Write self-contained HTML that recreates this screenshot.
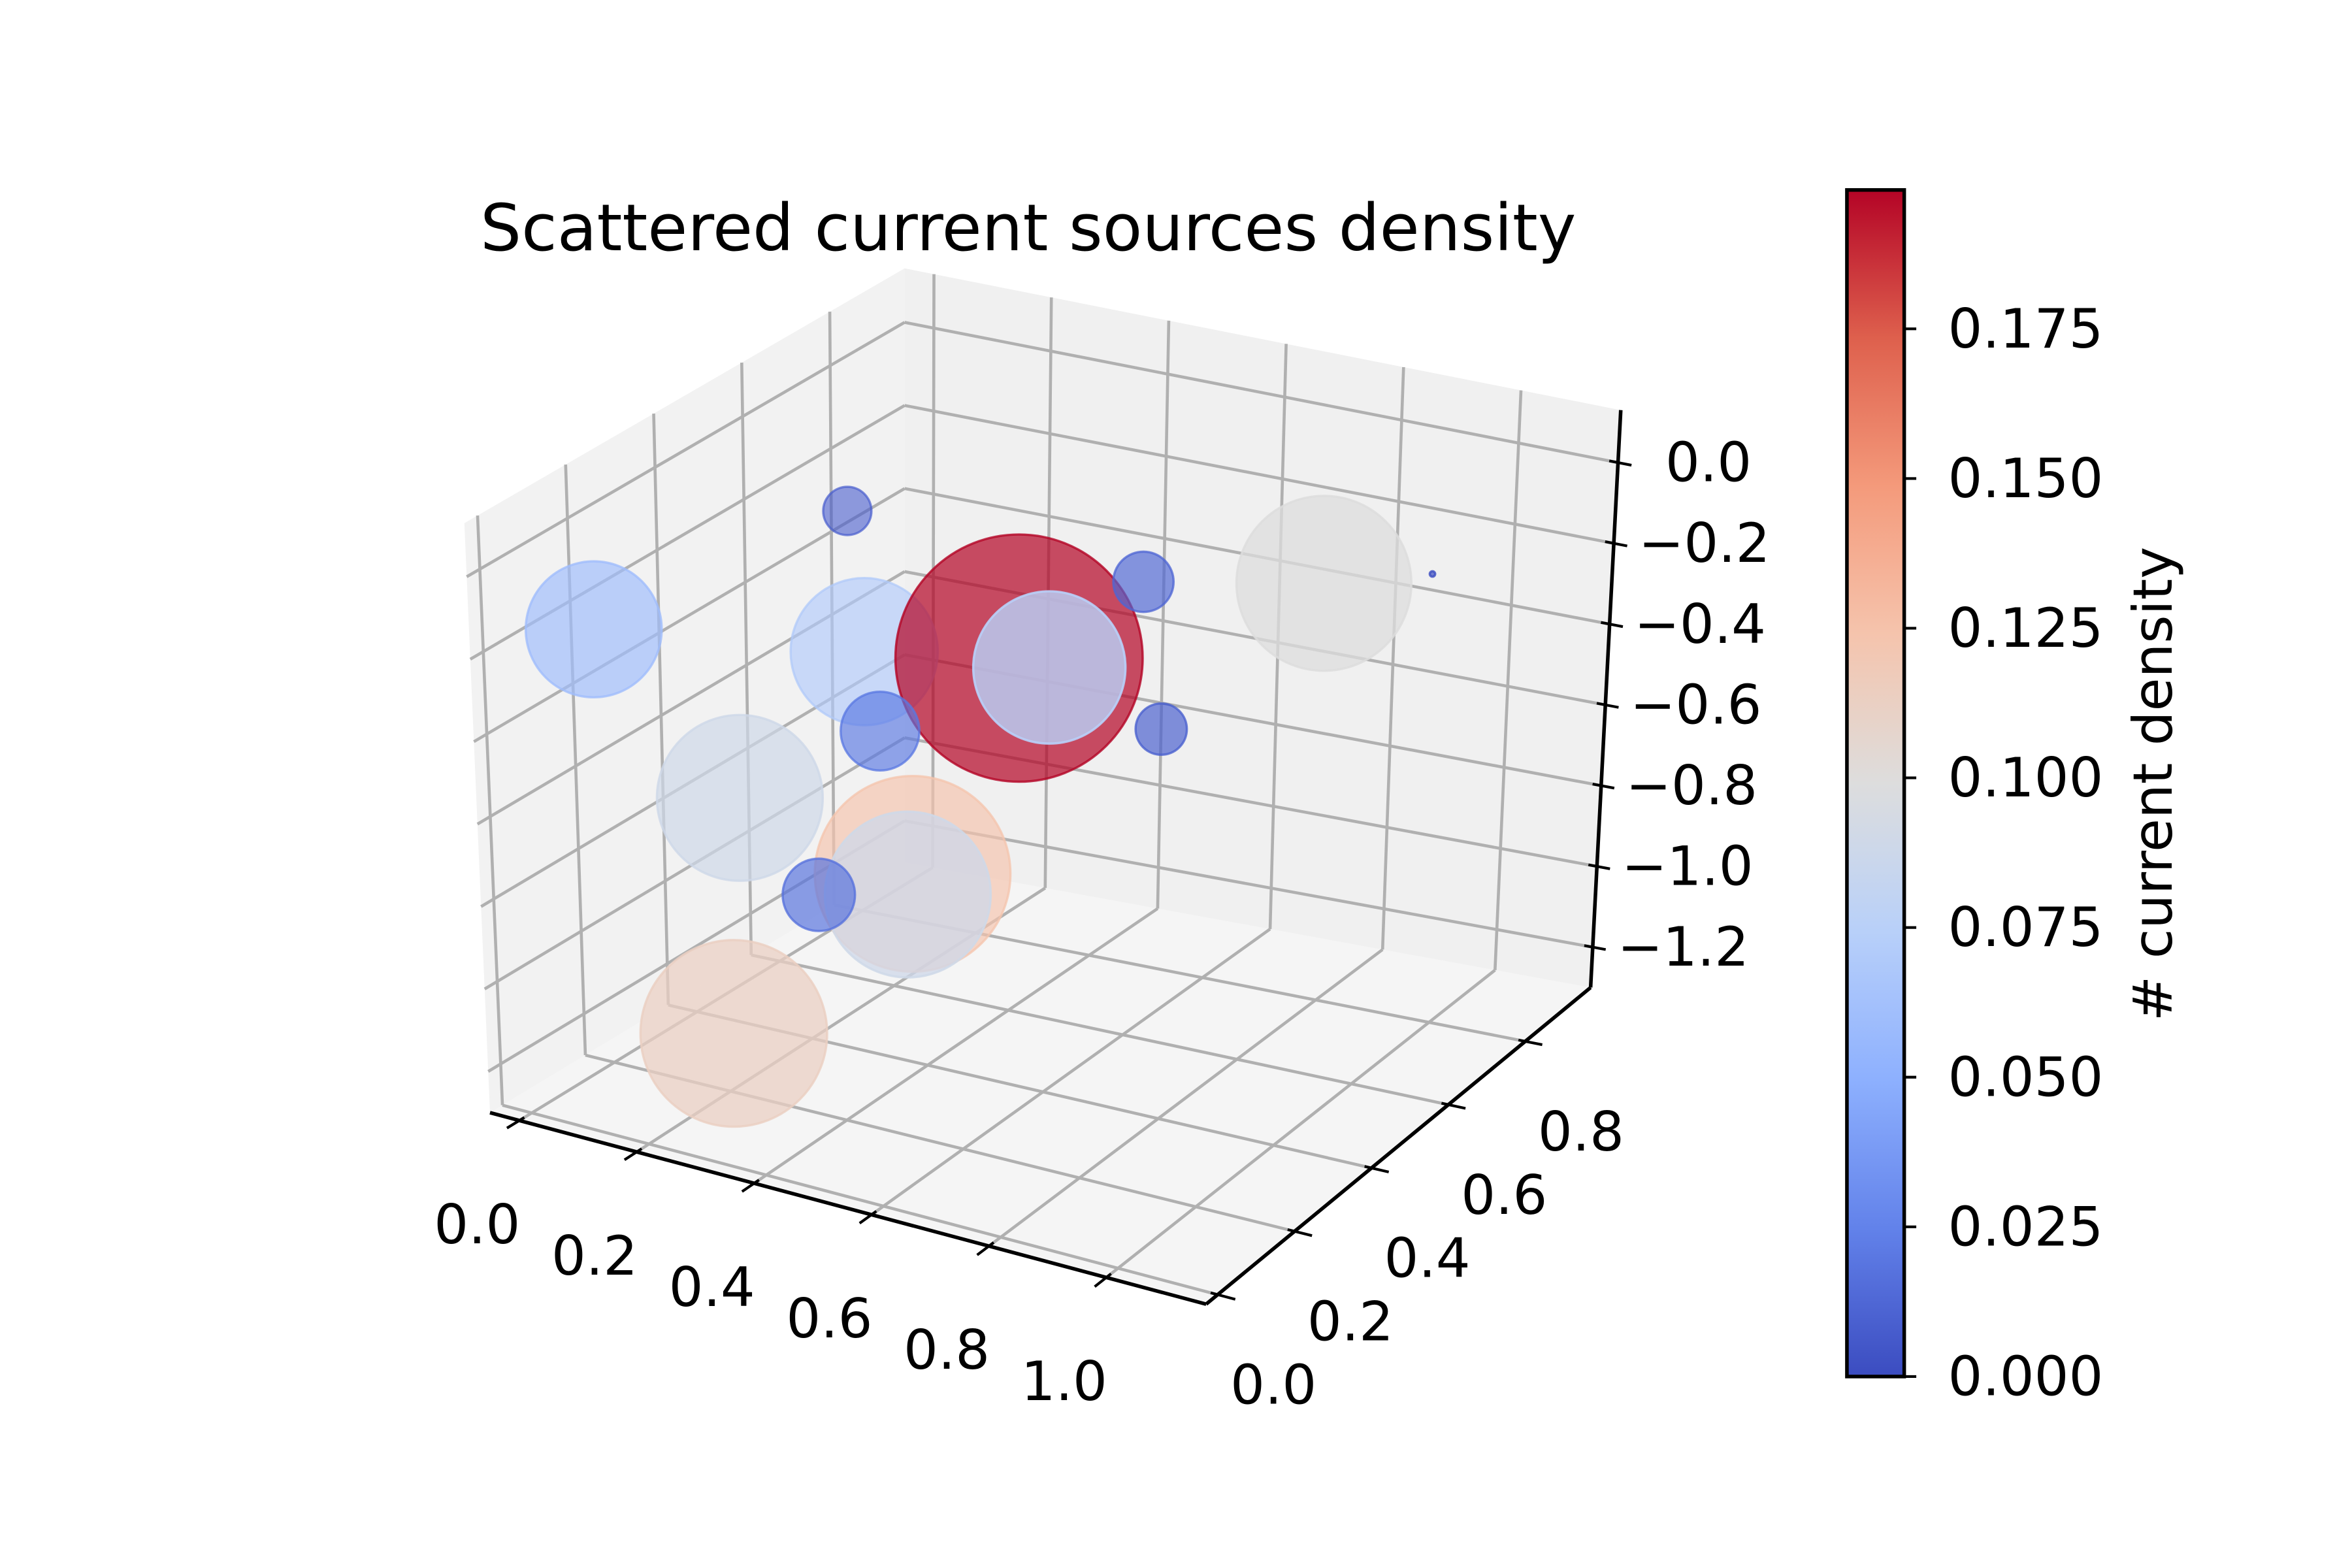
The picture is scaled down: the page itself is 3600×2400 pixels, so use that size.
<!DOCTYPE html>
<html><head><meta charset="utf-8"><style>
html,body{margin:0;padding:0;background:#fff}
svg{display:block}
text{font-family:"DejaVu Sans","Liberation Sans",sans-serif;fill:#000}
</style></head><body>
<svg id="chart" width="3600" height="2400" viewBox="0 0 1560 1040" xmlns="http://www.w3.org/2000/svg">
<defs><linearGradient id="cbgrad" x1="0" y1="1" x2="0" y2="0"></linearGradient></defs>
<text x="682" y="166" font-size="43" text-anchor="middle">Scattered current sources density</text>
<g id="panes"></g>
<g id="grid"></g>
<g id="axes"></g>
<g id="points"></g>
<g id="cbar"></g>
</svg>
<script>
// ---- data ----
const xs = [0.147,0.010,0.246,0.508,0.698,0.577,0.882,0.930,0.272,0.611,0.176,0.326,0.459,0.236,0.229];
const ys = [0.57,0.17,0.47,0.47,0.27,0.67,0.67,0.87,0.47,0.67,0.27,0.47,0.27,0.37,0.17];
const zs = [-0.149,-0.230,-0.395,-0.328,-0.155,-0.255,-0.167,-0.271,-0.579,-0.603,-0.644,-0.907,-0.782,-0.922,-1.131];
const density = [0.0075,0.06,0.07,0.198,0.075,0.0118,0.099,0.0001,0.02,0.0085,0.089,0.124,0.089,0.017,0.113];
const xTicks = [0,0.2,0.4,0.6,0.8,1.0];
const yTicks = [0,0.2,0.4,0.6,0.8];
const zTicks = [0,-0.2,-0.4,-0.6,-0.8,-1.0,-1.2];
const cbTicks = [0,0.025,0.05,0.075,0.1,0.125,0.15,0.175];

const NS="http://www.w3.org/2000/svg";
const xlim=[-0.05,1.17], ylim=[-0.03,0.97], zlim=[-1.3,0.13];
const cmin=0, cmax=0.1982;
const C000=[325,738],C100=[800,865],C110=[1055,655],C010=[600,572];
const C001=[308,347],C101=[805,465],C111=[1075,272],C011=[600,178];
function lerp(a,b,t){return [a[0]+(b[0]-a[0])*t,a[1]+(b[1]-a[1])*t];}
function proj(x,y,z){
  const u=(x-xlim[0])/(xlim[1]-xlim[0]), v=(y-ylim[0])/(ylim[1]-ylim[0]), w=(z-zlim[0])/(zlim[1]-zlim[0]);
  const b=lerp(lerp(C000,C100,u),lerp(C010,C110,u),v);
  const t=lerp(lerp(C001,C101,u),lerp(C011,C111,u),v);
  return lerp(b,t,w);
}
const cmapStops=[[59,76,192],[98,130,234],[141,176,254],[184,208,249],[221,221,221],[245,196,173],[244,154,123],[222,96,77],[180,4,38]];
function cmap(t){
  t=Math.max(0,Math.min(1,t));const s=t*(cmapStops.length-1);const i=Math.min(Math.floor(s),cmapStops.length-2);const f=s-i;
  const a=cmapStops[i],b=cmapStops[i+1];
  return 'rgb('+[0,1,2].map(k=>Math.round(a[k]+(b[k]-a[k])*f)).join(',')+')';
}
function mk(tag,attrs,parent){const e=document.createElementNS(NS,tag);for(const k in attrs)e.setAttribute(k,attrs[k]);parent.appendChild(e);return e;}
function poly(pts){return pts.map(p=>p[0].toFixed(1)+','+p[1].toFixed(1)).join(' ');}
function line(p,q,stroke,w,parent){return mk('line',{x1:p[0],y1:p[1],x2:q[0],y2:q[1],stroke:stroke,'stroke-width':w},parent);}

const panes=document.getElementById('panes');
let e;
e=mk('polygon',{points:poly([C000,C100,C110,C010]),fill:'#f5f5f5'},panes);


e=mk('polygon',{points:poly([C000,C010,C011,C001]),fill:'#f2f2f2'},panes);


e=mk('polygon',{points:poly([C010,C110,C111,C011]),fill:'#f0f0f0'},panes);



const grid=document.getElementById('grid');
const gc='#b0b0b0', gw=2;
xTicks.forEach(x=>{
  e=line(proj(x,ylim[0],zlim[0]),proj(x,ylim[1],zlim[0]),gc,gw,grid);
  
  
  e=line(proj(x,ylim[1],zlim[0]),proj(x,ylim[1],zlim[1]),gc,gw,grid);
  
  
});
yTicks.forEach(y=>{
  e=line(proj(xlim[0],y,zlim[0]),proj(xlim[1],y,zlim[0]),gc,gw,grid);
  
  
  e=line(proj(xlim[0],y,zlim[0]),proj(xlim[0],y,zlim[1]),gc,gw,grid);
  
  
});
zTicks.forEach(z=>{
  e=line(proj(xlim[0],ylim[0],z),proj(xlim[0],ylim[1],z),gc,gw,grid);
  
  
  e=line(proj(xlim[0],ylim[1],z),proj(xlim[1],ylim[1],z),gc,gw,grid);
  
  
});

const axes=document.getElementById('axes');
e=line(C000,C100,'#000',2.4,axes);


e=line(C100,C110,'#000',2.4,axes);


e=line(C110,C111,'#000',2.4,axes);


xTicks.forEach(x=>{
  const p=proj(x,ylim[0],zlim[0]);
  e=line(proj(x,ylim[0]+0.012,zlim[0]),proj(x,ylim[0]-0.03,zlim[0]),'#000',1.8,axes);
  
  
  e=mk('text',{x:p[0]-28,y:p[1]+69,'font-size':36,'text-anchor':'middle','dominant-baseline':'central'},axes);
  e.textContent=x.toFixed(1);
  
  
});
yTicks.forEach(y=>{
  const p=proj(xlim[1],y,zlim[0]);
  e=line(proj(xlim[1]-0.012,y,zlim[0]),proj(xlim[1]+0.03,y,zlim[0]),'#000',1.8,axes);
  
  
  e=mk('text',{x:p[0]+37,y:p[1]+60,'font-size':36,'text-anchor':'middle','dominant-baseline':'central'},axes);
  e.textContent=y.toFixed(1);
  
  
});
zTicks.forEach(z=>{
  const p=proj(xlim[1],ylim[1],z);
  e=line(proj(xlim[1]-0.015,ylim[1],z),proj(xlim[1]+0.023,ylim[1],z),'#000',1.8,axes);
  
  
  e=mk('text',{x:p[0]+60,y:p[1],'font-size':36,'text-anchor':'middle','dominant-baseline':'central'},axes);
  e.textContent=(z<0?'\u2212':'')+Math.abs(z).toFixed(1);
  
  
});

const pts=document.getElementById('points');
const rScale=82/Math.sqrt(0.198);
density.forEach((c,i)=>{
  const p=proj(xs[i],ys[i],zs[i]);
  const col=cmap((c-cmin)/(cmax-cmin));
  const d=((xlim[1]-xs[i])/(xlim[1]-xlim[0])+(ys[i]-ylim[0])/(ylim[1]-ylim[0]))/2;
  const a=Math.max(0.3,Math.min(1,1-0.55*d));
  const el=mk('circle',{cx:p[0].toFixed(1),cy:p[1].toFixed(1),r:Math.max(1.5,rScale*Math.sqrt(c)).toFixed(1),fill:col,'fill-opacity':a.toFixed(2),stroke:col,'stroke-opacity':Math.min(1,a+0.1).toFixed(2),'stroke-width':1.5},pts);
  
  
});

// colorbar
const grad=document.getElementById('cbgrad');
for(let k=0;k<=16;k++){mk('stop',{offset:(k/16),'stop-color':cmap(k/16)},grad);}
const cb=document.getElementById('cbar');
const cbx=1225,cbw=38,cbTop=126,cbBot=913;
function cy(v){return cbBot-(v-cmin)/(cmax-cmin)*(cbBot-cbTop);}
e=mk('rect',{x:cbx,y:cbTop,width:cbw,height:cbBot-cbTop,fill:'url(#cbgrad)',stroke:'#000','stroke-width':2.4},cb);


cbTicks.forEach(v=>{
  const y=cy(v);
  e=line([cbx+cbw,y],[cbx+cbw+8,y],'#000',1.8,cb);
  
  
  e=mk('text',{x:1292,y:y,'font-size':36,'dominant-baseline':'central'},cb);
  e.textContent=v.toFixed(3);
  
  
});
e=mk('text',{x:1428,y:520,'font-size':36,'text-anchor':'middle','dominant-baseline':'central',transform:'rotate(-90 1428 520)'},cb);
e.textContent='# current density';


</script>
</body></html>
